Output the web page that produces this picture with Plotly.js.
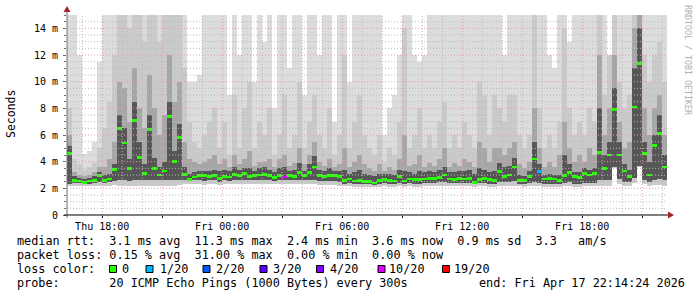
<!DOCTYPE html>
<html><head><meta charset="utf-8">
<script src="https://cdn.plot.ly/plotly-3.0.1.min.js"></script>
<style>html,body{margin:0;padding:0;background:#fff;}#chart{width:697px;height:297px;}</style>
</head><body><div id="chart"></div>
<script>
// ---- data (15-minute columns, values in milliseconds) ----
const startTime = Date.UTC(2026, 3, 16, 16, 14, 24);
const endTime = Date.UTC(2026, 3, 17, 22, 14, 24);
const stepMinutes = 15;

const median = [4.6,2.6,2.55,2.45,2.55,2.6,2.95,2.6,2.7,3.4,6.5,5.4,3.5,7.1,4.3,3.1,6.4,3.5,3.0,3.3,7.4,4.0,5.8,3.05,2.65,2.85,2.95,2.95,2.9,2.95,
 2.75,2.9,2.85,3.05,2.95,3.1,2.9,2.95,3.0,3.05,2.95,2.8,2.95,2.85,2.95,2.9,3.2,2.95,3.2,3.6,2.95,2.9,2.95,2.95,2.9,2.6,2.7,2.55,2.6,2.5,
 2.5,2.4,2.6,2.65,2.6,2.55,2.9,2.55,2.7,2.65,2.65,2.7,2.75,2.75,2.8,3.0,2.7,2.65,2.75,2.7,2.75,2.45,2.65,2.75,2.65,2.6,3.25,2.9,3.0,3.6,
 2.6,2.6,2.9,4.2,3.25,2.7,2.75,2.7,2.6,2.95,3.2,2.9,2.8,3.1,3.0,3.1,4.7,3.5,4.5,7.9,4.5,3.3,2.9,8.1,11.35,4.6,3.0,5.2,6.1,3.6];
const lossCount = [0,0,0,0,0,0,0,0,0,0,0,0,0,0,0,0,0,0,0,0,0,0,0,0,0,0,0,0,0,0,
 0,0,0,0,0,0,0,0,0,0,0,0,0,10,0,0,0,0,0,0,0,0,0,0,0,0,0,0,0,0,
 0,0,0,0,0,0,0,0,0,0,0,0,0,0,0,0,0,0,0,0,0,0,0,0,0,0,0,0,0,0,
 0,0,0,0,1,0,0,0,0,0,0,0,0,0,0,0,0,0,0,0,0,0,0,0,0,0,0,0,0,0];
const pingMin = [2.15,2.2,2.2,2.15,2.15,2.2,2.2,2.2,2.2,2.25,2.2,2.2,2.15,2.2,2.15,2.2,2.2,2.15,2.2,2.15,2.2,2.2,2.25,2.3,2.3,2.3,2.3,2.25,2.3,2.3,
 2.25,2.3,2.3,2.3,2.3,2.35,2.3,2.3,2.3,2.3,2.3,2.3,2.3,2.3,2.3,2.3,2.3,2.3,2.3,2.3,2.25,2.25,2.25,2.25,2.2,2.15,2.15,2.1,2.1,2.1,
 2.1,2.1,2.1,2.15,2.1,2.1,2.15,2.1,2.15,2.1,2.1,2.15,2.15,2.15,2.15,2.2,2.15,2.15,2.15,2.15,2.15,2.1,2.15,2.15,2.1,2.1,2.15,2.2,2.2,2.2,
 2.15,2.1,2.15,2.2,2.15,2.1,2.1,2.1,2.1,2.15,2.15,2.1,2.1,2.15,2.15,2.15,2.2,2.2,2.2,3.5,2.3,2.2,2.2,2.4,3.6,2.3,2.2,2.25,2.25,2.2];
const pingLow = [2.35,2.4,2.4,2.35,2.35,2.4,2.45,2.4,2.45,2.55,2.6,2.6,2.55,2.6,2.6,2.6,2.65,2.6,2.6,2.6,2.6,2.6,2.65,2.6,2.55,2.6,2.6,2.55,2.6,2.6,
 2.5,2.6,2.55,2.6,2.6,2.6,2.6,2.6,2.6,2.6,2.6,2.55,2.6,2.6,2.6,2.6,2.6,2.6,2.6,2.6,2.55,2.55,2.55,2.55,2.5,2.35,2.4,2.35,2.35,2.3,
 2.3,2.25,2.35,2.4,2.35,2.3,2.4,2.3,2.4,2.35,2.35,2.4,2.4,2.4,2.45,2.5,2.4,2.4,2.4,2.4,2.4,2.3,2.4,2.4,2.35,2.35,2.5,2.5,2.5,2.55,
 2.35,2.3,2.4,2.5,2.4,2.35,2.35,2.35,2.3,2.4,2.45,2.35,2.35,2.4,2.4,2.4,2.6,2.6,2.6,3.6,2.7,2.5,2.5,2.8,3.7,2.6,2.5,2.6,2.7,2.6];
const ping60 = [5.2,2.9,2.8,2.7,2.8,2.9,3.2,3.0,3.1,3.8,7.5,6.5,4.2,8.5,5.5,3.8,7.5,4.3,3.6,4.0,8.5,4.8,6.8,3.6,3.1,3.2,3.3,3.3,3.3,3.4,
 3.3,3.4,3.3,3.6,3.4,3.5,3.5,3.3,3.5,3.6,3.4,3.2,3.5,3.6,3.3,3.4,3.9,3.3,3.8,4.4,3.4,3.3,3.5,3.3,3.3,3.4,3.1,3.2,3.4,3.1,
 3.0,2.9,3.1,3.1,3.1,3.0,3.4,3.3,3.2,3.1,3.3,3.2,3.3,3.2,3.4,3.6,3.2,3.2,3.3,3.3,3.4,3.1,3.5,3.4,3.2,3.3,3.9,3.6,3.7,4.3,
 3.0,2.9,3.3,5.5,3.8,3.0,3.1,3.0,3.0,4.5,3.8,3.2,3.2,3.5,3.4,3.5,8,4.5,5.5,9.5,5.5,3.8,3.4,11,14,5.5,4,6,7.5,4.5];
const ping75 = [6,3.2,3.0,2.9,3.0,3.2,3.6,3.6,4.2,5.5,10,9.5,7,11,8,6.5,10.5,8,6,7.5,12,8.5,10,5.5,4.2,4,3.8,4.0,4.2,4.5,
 3.8,4.2,3.6,4.5,3.8,4.2,4.8,3.7,4.0,4.0,4.2,3.6,4.2,4.5,3.7,3.9,5.0,3.8,4.5,5.5,4.0,3.7,4.2,3.6,3.8,5.0,3.6,4.0,4.5,3.8,
 3.5,3.3,3.8,3.3,3.6,3.4,4.2,6,3.7,3.8,4.5,3.6,3.9,3.7,4.2,5,3.6,3.9,3.7,4.2,4,3.6,5.5,5,4,5,5,4.5,5,5.5,
 3.8,3.5,4,8,5,3.6,4,3.6,4.5,7,5,4,4.5,4,5,4.5,12,6,8,12,7,5,5.5,14,15,8,6,8,9,6];
const ping90 = [8,4.2,3.8,3.4,3.6,3.9,5,6.5,8.5,12,15,15,14,15,15,13,15,15,13,15,15,15,15,11,7,5.5,5,6,7,8,
 5,7,4.5,9,5,8,10,5,7,6,8,4.5,6,9,5,6,10,5,7,9,6,5,8,4.5,6,12,5,7,9,6,
 5,4.5,6,4,5,4.5,7,14,5,6,8,5,6,5,7,8.5,5,6,5,7,6,5,10,9,6,9,8,7,9,9,
 6,5,6,15,8,5,6,5,7,14,8,6,7,6,8,7,15,9,12,15,10,8,9,15,15,12,10,12,13,10];
const pingMax = [15,15,12,4.6,4.8,5.5,11.5,15,15,15,15,15,15,15,15,15,15,15,15,15,15,15,15,15,10,10,10.5,15,15,15,
 15,15,9,15,12,15,15,10,15,13,15,8,15,15,11,15,15,9,15,15,12,15,15,7,15,15,10,15,15,15,
 15,15,15,6,8,9,12,15,15,12,11.5,12,15,15,15,15,15,15,15,15,15,15,15,15,15,15,15,12,15,15,
 15,15,15,15,15,15,12,11,15,15,13,15,15,15,15,15,15,15,12,15,15,15,15,15,15,15,15,15,15,15];

const yTickVals = [0,2,4,6,8,10,12,14];
const yTickText = ['0','2 m','4 m','6 m','8 m','10 m','12 m','14 m'];
const xTickVals = ['2026-04-16 18:00','2026-04-16 21:00','2026-04-17 00:00','2026-04-17 03:00','2026-04-17 06:00',
 '2026-04-17 09:00','2026-04-17 12:00','2026-04-17 15:00','2026-04-17 18:00','2026-04-17 21:00'];
const xTickText = ['Thu 18:00','','Fri 00:00','','Fri 06:00','','Fri 12:00','','Fri 18:00',''];

const lossLevels = [0,1,2,3,4,10,19];
const lossLabels = ['0','1/20','2/20','3/20','4/20','10/20','19/20'];
const lossColors = ['#26ff00','#00b8ff','#0059ff','#5e00ff','#7e00ff','#dd00ff','#ff0000'];

const legendLines = [
 'median rtt:  3.1 ms avg  11.3 ms max  2.4 ms min  3.6 ms now  0.9 ms sd  3.3   am/s',
 'packet loss: 0.15 % avg  31.00 % max  0.00 % min  0.00 % now',
 'loss color:',
 'probe:       20 ICMP Echo Pings (1000 Bytes) every 300s'
];
const endText = 'end: Fri Apr 17 22:14:24 2026';

// ---- build ----
const fmt = t => new Date(t).toISOString().replace('T',' ').slice(0,23);
const times = median.map((_, i) => fmt(startTime + (i*stepMinutes + stepMinutes/2)*60000));
const barW = stepMinutes*60000;

function band(lo, hi, color){
  return {type:'bar', x: times, base: lo, y: hi.map((h,i)=>Math.max(h - lo[i], 0)), width: barW,
    marker:{color: color, line:{width:0}}, hoverinfo:'skip', showlegend:false};
}
const lossColorOf = n => { let c = lossColors[0]; lossLevels.forEach((l,k)=>{ if(n>=l) c = lossColors[k]; }); return c; };
const traces = [
  band(pingMin, pingMax, '#dcdcdc'),
  band(pingMin, ping90, '#cacaca'),
  band(pingLow, ping75, '#a6a6a6'),
  band(pingLow, ping60, '#565656'),
  {type:'bar', x: times, base: median.map(v=>v-0.11), y: median.map(()=>0.22), width: barW,
   marker:{color: lossCount.map(lossColorOf), line:{width:0}}, hoverinfo:'skip', showlegend:false}
];

const L = 67, T = 15, W = 600, H = 200;
const px = x => (x - L)/W, py = y => (T + H - y)/H;
const mono = 'DejaVu Sans Mono, monospace';
const nb = s => s.replace(/ /g, '\u00a0');

const shapes = [];
for (let v = 0.5; v < 15; v += 0.5) {
  const major = Math.abs(v % 2) < 1e-9;
  shapes.push({type:'line', layer:'above', xref:'paper', yref:'y', x0:0, x1:1, y0:v, y1:v,
    line:{color: major ? '#e0a0a0' : '#b8b8b8', width:1, dash:'1px,2px'}});
}
for (let h = 1; h <= 30; h++) {
  const t = Date.UTC(2026,3,16,16,0,0) + h*3600000;
  if (t >= endTime) break;
  const hr = new Date(t).getUTCHours();
  shapes.push({type:'line', layer:'above', xref:'x', yref:'paper', x0: fmt(t), x1: fmt(t), y0:0, y1:1,
    line:{color: hr % 3 === 0 ? '#e0a0a0' : '#b8b8b8', width:1, dash:'1px,2px'}});
}
// axes with arrows
shapes.push({type:'line', layer:'above', xref:'paper', yref:'paper', x0:0, x1:0, y0:py(218), y1:py(9), line:{color:'#707070', width:1}});
shapes.push({type:'line', layer:'above', xref:'paper', yref:'paper', x0:px(64), x1:px(670), y0:0, y1:0, line:{color:'#000', width:1}});
shapes.push({type:'path', layer:'above', xref:'paper', yref:'paper', fillcolor:'#a02828', line:{width:0},
  path:`M ${px(67)} ${py(6)} L ${px(63.5)} ${py(12)} L ${px(70.5)} ${py(12)} Z`});
shapes.push({type:'path', layer:'above', xref:'paper', yref:'paper', fillcolor:'#a02828', line:{width:0},
  path:`M ${px(674)} ${py(215)} L ${px(668)} ${py(211.5)} L ${px(668)} ${py(218.5)} Z`});

// legend squares
const sqX = [109.5, 146, 203, 260, 316.5, 378, 442.5];
const lbX = [121, 158.5, 215, 272, 328.5, 388, 452.5];
lossColors.forEach((c,k)=>{
  shapes.push({type:'rect', xref:'paper', yref:'paper', x0:px(sqX[k]), x1:px(sqX[k]+7), y0:py(265.5), y1:py(272.5),
    fillcolor:c, line:{color:'#000', width:1}});
});

const rowY = [240.7, 255, 269, 283.3];
const annotations = [];
legendLines.forEach((s,k)=>annotations.push({xref:'paper', yref:'paper', x:px(15), y:py(rowY[k]), xanchor:'left', yanchor:'middle',
  text: nb(s), showarrow:false, font:{family:mono, size:11.8, color:'#000'}}));
annotations.push({xref:'paper', yref:'paper', x:px(477), y:py(rowY[3]), xanchor:'left', yanchor:'middle',
  text: nb(endText), showarrow:false, font:{family:mono, size:11.8, color:'#000'}});
lossLabels.forEach((s,k)=>annotations.push({xref:'paper', yref:'paper', x:px(lbX[k]-1), y:py(rowY[2]), xanchor:'left', yanchor:'middle',
  text: s, showarrow:false, font:{family:mono, size:11.8, color:'#000'}}));
annotations.push({xref:'paper', yref:'paper', x:px(11), y:py(114), xanchor:'center', yanchor:'middle', textangle:-90,
  text:'Seconds', showarrow:false, font:{family:mono, size:11.5, color:'#000'}});
annotations.push({xref:'paper', yref:'paper', x:px(688), y:py(60), xanchor:'center', yanchor:'middle', textangle:90,
  text: nb('RRDTOOL / TOBI OETIKER'), showarrow:false, font:{family:mono, size:8.3, color:'#b0b0b0'}});

const layout = {
  width:697, height:297, margin:{l:L, r:697-L-W, t:T, b:297-T-H, pad:0},
  paper_bgcolor:'#fff', plot_bgcolor:'#fff', barmode:'overlay', bargap:0,
  showlegend:false,
  xaxis:{type:'date', range:[fmt(startTime), fmt(endTime)], tickmode:'array', tickvals:xTickVals, ticktext:xTickText,
    showgrid:false, zeroline:false, showline:false, ticks:'outside', ticklen:2, tickcolor:'#000',
    tickfont:{family:mono, size:10, color:'#000'}, fixedrange:true},
  yaxis:{range:[0,15], tickmode:'array', tickvals:yTickVals, ticktext:yTickText, showgrid:false, zeroline:false, showline:false,
    ticks:'outside', ticklen:3, tickcolor:'#707070', ticklabelstandoff:3,
    minor:{dtick:0.5, ticks:'outside', ticklen:2, tickcolor:'#707070', showgrid:false},
    tickfont:{family:mono, size:10, color:'#000'}, fixedrange:true},
  shapes: shapes, annotations: annotations
};
Plotly.newPlot('chart', traces, layout, {staticPlot:true, displayModeBar:false});
</script></body></html>
